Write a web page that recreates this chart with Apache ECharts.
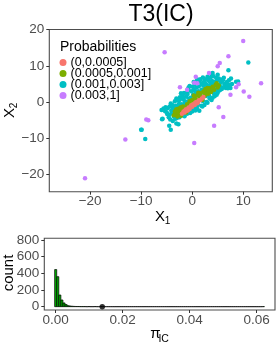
<!DOCTYPE html>
<html>
<head>
<meta charset="utf-8">
<script src="https://cdn.jsdelivr.net/npm/echarts@6/dist/echarts.min.js"></script>
<style>
html,body{margin:0;padding:0;background:#fff;}
#c{width:277px;height:346px;}
</style>
</head>
<body>
<div id="c"></div>
<script>
// ---------- data ----------
const groupNames = ['(0,0.0005]', '(0.0005,0.001]', '(0.001,0.003]', '(0.003,1]'];
const groupColors = ['#F8766D', '#7CAE00', '#00BFC4', '#C77CFF'];

const probLow = [[-2.0,-3.2],[-1.7,-2.6],[-1.5,-2.9],[-1.2,-2.0],[-1.0,-2.4],[-0.7,-1.5],[-0.5,-1.9],[-0.2,-0.9],
  [0.0,-1.3],[0.3,-0.5],[0.5,-0.8],[0.8,0.0],[1.0,-0.3],[1.3,0.5],[1.6,0.6],[1.9,1.0],[2.2,1.4],[-0.8,-2.2],
  [0.6,-0.2],[1.2,0.1],[-1.4,-2.3],[0.1,-0.8]];

const probMid = [[-3.3,-3.2],[-3.0,-2.4],[-2.8,-3.6],[-2.6,-1.8],[-2.4,-2.9],[-2.2,-3.8],[-2.0,-2.0],[-1.8,-1.2],
  [-1.6,-2.8],[-1.3,-1.6],[-1.0,-0.6],[-0.8,-2.2],[-0.5,0.2],[-0.3,-1.0],[0.0,0.6],[0.2,-0.4],[0.5,1.2],[0.8,0.2],
  [1.0,1.8],[1.3,0.8],[1.6,2.4],[1.9,1.4],[2.2,2.9],[2.5,1.8],[2.8,3.2],[3.1,2.3],[3.4,3.8],[3.7,2.8],[4.0,4.2],
  [4.3,3.4],[4.6,4.8],[5.0,4.0],[5.2,4.6],[-2.5,-3.4],[-3.1,-2.0],[0.3,1.8],[1.2,2.6],[2.0,0.6],[-1.2,-2.9],[3.0,3.9],
  [-2.9,-4.0],[-3.4,-2.6],[4.8,5.2],[2.6,3.6],[-2.7,-2.8],[-1.9,-2.6],[-0.6,-0.6],[0.6,0.7],[1.5,1.6],[2.4,2.4],
  [3.3,3.1],[4.1,3.8],[-3.6,-3.6],[-2.2,-1.4]];

const probHigh = [
  [-6.0,-2.2],[-5.6,-1.8],[-5.2,-1.4],[-5.9,-4.7],[-5.8,-4.6],
  [-5.0,-2.8],[-4.8,-1.6],[-4.5,-3.5],[-4.6,-4.2],[-5.3,-2.5],[-4.9,-3.3],[-4.4,-1.2],[-4.5,-6.5],[-4.2,-7.6],
  [-4.1,-2.3],[-4.0,-3.0],[-3.8,-1.5],[-3.6,-4.0],[-3.5,-2.2],[-3.9,-0.8],[-4.2,-0.4],[-3.7,-3.3],[-3.4,0.2],
  [-3.8,-5.2],[-3.3,-4.6],[-3.6,-2.8],[-4.3,-4.8],[-3.1,-5.9],[-2.7,-6.1],
  [-3.0,-3.5],[-2.8,-2.0],[-2.6,-0.5],[-2.5,-4.2],[-2.9,0.5],[-2.4,1.3],[-3.2,-1.0],[-3.1,1.0],[-2.7,-1.3],
  [-2.3,-1.8],[-2.5,0.6],[-3.0,-4.4],[-2.4,-2.6],
  [-2.0,-3.6],[-2.0,-1.0],[-1.8,0.8],[-1.6,2.5],[-1.5,-3.9],[-2.2,2.4],[-1.3,-2.5],[-1.9,1.8],[-1.5,-0.4],
  [-1.7,1.2],[-2.1,-0.6],[-1.7,-3.4],[-1.1,2.6],[-1.4,0.2],
  [-1.0,-3.2],[-1.2,1.5],[-0.8,3.5],[-0.6,-2.8],[-0.5,4.4],[-0.4,-3.0],[-0.9,0.0],[-0.9,2.2],[-0.7,4.0],
  [-0.6,1.0],[-1.2,-1.2],[-0.3,1.2],[-0.7,-0.9],[-0.2,3.0],
  [0.0,-2.6],[0.2,2.0],[0.5,5.0],[0.3,5.5],[0.6,-2.3],[0.8,4.0],[0.4,-1.5],[0.1,4.2],[0.3,3.3],[0.6,3.0],
  [0.1,-1.8],[0.9,-1.6],[0.7,5.6],[0.9,2.2],[0.7,0.6],
  [1.0,-2.0],[1.2,3.0],[1.5,5.5],[1.0,6.2],[1.4,-2.4],[1.8,-1.0],[1.2,0.5],[1.6,2.0],[1.3,4.3],[1.6,6.3],
  [1.1,-0.8],[1.9,4.9],[1.9,3.4],[1.7,1.3],
  [2.0,-1.2],[2.2,4.5],[2.5,6.0],[2.4,-0.8],[2.8,0.0],[2.1,6.8],[2.6,2.5],[2.3,5.5],[2.1,0.3],[2.4,3.4],
  [2.7,5.0],[2.9,6.4],[2.9,4.6],[2.7,1.7],
  [3.0,-0.2],[3.2,3.5],[3.5,5.5],[3.0,7.0],[3.4,1.0],[3.8,0.6],[3.6,6.8],[3.3,4.5],[3.8,4.8],[3.2,6.0],
  [3.9,7.3],[3.3,1.8],[3.7,3.8],[3.9,5.8],
  [4.0,1.2],[4.2,3.0],[4.5,5.5],[4.2,7.1],[4.8,2.0],[4.4,1.6],[4.0,8.0],[4.6,4.5],[4.7,6.6],[4.3,5.0],
  [4.9,3.2],[4.3,2.2],[4.9,6.0],
  [5.0,2.6],[5.4,4.5],[5.2,6.5],[5.8,3.6],[5.5,3.4],[5.0,7.5],[5.6,5.4],[5.7,6.2],[5.3,3.2],
  [6.2,6.7],[6.0,4.0],[6.4,4.2],[6.8,5.5],[6.3,5.0],[6.6,3.9],[6.0,6.0],[6.9,4.5],
  [7.0,3.8],[7.5,3.9],[7.2,6.0],[7.8,5.0],[7.3,4.8],[7.6,6.5],
  [7.1,8.8],[8.6,5.6],[9.0,5.7],[11.0,10.9],[-9.2,-10.2],[-10.0,-7.6],[-9.9,-7.6]];

const probTop = [[-5.4,13.7],[10.0,16.8],[7.1,12.6],[5.4,10.8],[5.0,9.9],[3.3,8.0],[13.5,5.2],[9.1,4.9],[8.6,4.1],
  [10.1,2.9],[11.2,1.5],[7.5,2.0],[0.7,7.0],[-2.4,4.1],[1.0,5.2],[0.4,5.3],[-1.0,3.4],[5.2,-1.4],[6.1,-4.1],
  [4.3,-6.5],[0.4,-11.3],[-8.6,-5.0],[-9.0,-4.8],[-13.1,-10.3],[-21.0,-21.0]];

const xTicks = [-20, -10, 0, 10];
const yTicks = [-20, -10, 0, 10, 20];

const histStart = -0.00031;
const histWidth = 0.00062;
const histCounts = [445,360,140,80,45,25,12,8,5,3,2,2,1,1,1,0,1,0,0,1,
  0,0,0,0,0,0,0,0,0,0,0,0,0,0,0,0,0,0,0,0,
  0,0,0,0,0,0,0,0,0,0,0,0,0,0,0,0,0,0,0,0,
  0,0,0,0,0,0,0,0,0,0,0,0,0,0,0,0,0,0,0,0,
  0,0,0,0,0,0,0,0,0,0,0,0,0,0,0,0,0,0,0,0,1];
const observedPi = [[0.0139, 0]];
const histXTicks = [0, 0.02, 0.04, 0.06];
const histYTicks = [0, 200, 400, 600, 800];

// ---------- chart ----------
const FONT = '"Liberation Sans", Arial, sans-serif';
const tickColor = '#333333';
const labelColor = '#4D4D4D';

const histData = histCounts.map((c, i) => [histStart + i * histWidth, histStart + (i + 1) * histWidth, c]);

function mkAxis(gridIndex, min, max, ticks, margin, fmt) {
  return {
    type: 'value', gridIndex: gridIndex, min: min, max: max,
    splitLine: { show: false },
    axisLine: { show: false, onZero: false },
    axisTick: { show: true, inside: false, length: 3, lineStyle: { color: tickColor, width: 1 }, customValues: ticks },
    axisLabel: { color: labelColor, fontSize: 13.5, fontFamily: FONT, margin: margin, customValues: ticks, formatter: fmt }
  };
}
const minusFmt = v => (v < 0 ? '\u2212' + Math.abs(v) : '' + v);

const chart = echarts.init(document.getElementById('c'), null, { renderer: 'canvas' });

const scatterSeries = [
  { idx: 2, data: probHigh },
  { idx: 1, data: probMid },
  { idx: 0, data: probLow },
  { idx: 3, data: probTop }
].map(s => ({
  type: 'scatter',
  name: groupNames[s.idx],
  xAxisIndex: 0, yAxisIndex: 0,
  data: s.data,
  symbol: 'circle',
  symbolSize: 4.5,
  itemStyle: { color: groupColors[s.idx], opacity: 1 },
  emphasis: { disabled: true },
  animation: false
}));

chart.setOption({
  animation: false,
  backgroundColor: '#fff',
  grid: [
    { left: 49.3, top: 29.5, width: 223, height: 162.2, show: true, borderColor: '#4D4D4D', borderWidth: 1.1, backgroundColor: 'transparent', containLabel: false },
    { left: 44.3, top: 238.3, width: 230.7, height: 71.7, show: true, borderColor: '#4D4D4D', borderWidth: 1.1, backgroundColor: 'transparent', containLabel: false }
  ],
  xAxis: [
    mkAxis(0, -28, 15.7, xTicks, 3, minusFmt),
    mkAxis(1, -0.0034, 0.06546, histXTicks, 3, v => v.toFixed(2))
  ],
  yAxis: [
    mkAxis(0, -24.7, 20.0, yTicks, 5, minusFmt),
    mkAxis(1, -40, 820, histYTicks, 5, v => '' + v)
  ],
  legend: {
    data: groupNames,
    orient: 'vertical',
    left: 59.5, top: 56,
    padding: 0,
    itemWidth: 7, itemHeight: 7, itemGap: -2,
    icon: 'circle',
    selectedMode: false,
    textStyle: { fontSize: 12.5, fontFamily: FONT, color: '#000', padding: [0, 0, 0, -1] }
  },
  graphic: [
    { type: 'text', x: 161, y: 15, style: { text: 'T3(IC)', font: '23px ' + FONT, fill: '#000', textAlign: 'center', textVerticalAlign: 'middle' } },
    { type: 'text', x: 60, y: 47.5, style: { text: 'Probabilities', font: '14px ' + FONT, fill: '#000', textAlign: 'left', textVerticalAlign: 'middle' } },
    { type: 'text', x: 160, y: 217, style: { text: 'X', font: '15px ' + FONT, fill: '#000', textAlign: 'center', textVerticalAlign: 'middle' } },
    { type: 'text', x: 167.5, y: 221.5, style: { text: '1', font: '10px ' + FONT, fill: '#000', textAlign: 'center', textVerticalAlign: 'middle' } },
    { type: 'text', x: 9.5, y: 113, rotation: Math.PI / 2, style: { text: 'X', font: '15px ' + FONT, fill: '#000', textAlign: 'center', textVerticalAlign: 'middle' } },
    { type: 'text', x: 14, y: 105.5, rotation: Math.PI / 2, style: { text: '2', font: '10px ' + FONT, fill: '#000', textAlign: 'center', textVerticalAlign: 'middle' } },
    { type: 'text', x: 9, y: 273, rotation: Math.PI / 2, style: { text: 'count', font: '15px ' + FONT, fill: '#000', textAlign: 'center', textVerticalAlign: 'middle' } },
    { type: 'text', x: 155.3, y: 333.5, style: { text: '\u03C0', font: '15px ' + FONT, fill: '#000', textAlign: 'center', textVerticalAlign: 'middle' } },
    { type: 'text', x: 163.7, y: 339.5, style: { text: 'IC', font: '10.5px ' + FONT, fill: '#000', textAlign: 'center', textVerticalAlign: 'middle' } }
  ],
  series: scatterSeries.concat([
    {
      type: 'custom',
      xAxisIndex: 1, yAxisIndex: 1,
      data: histData,
      clip: true,
      renderItem: function (params, api) {
        const p0 = api.coord([api.value(0), api.value(2)]);
        const p1 = api.coord([api.value(1), 0]);
        return {
          type: 'rect',
          shape: { x: p0[0], y: p0[1], width: p1[0] - p0[0], height: p1[1] - p0[1] },
          style: { fill: '#00B000', stroke: '#000', lineWidth: 0.7 }
        };
      },
      animation: false
    },
    {
      type: 'scatter',
      xAxisIndex: 1, yAxisIndex: 1,
      data: observedPi,
      symbol: 'circle', symbolSize: 5.5,
      itemStyle: { color: '#000' },
      emphasis: { disabled: true },
      animation: false
    }
  ])
});
</script>
</body>
</html>
